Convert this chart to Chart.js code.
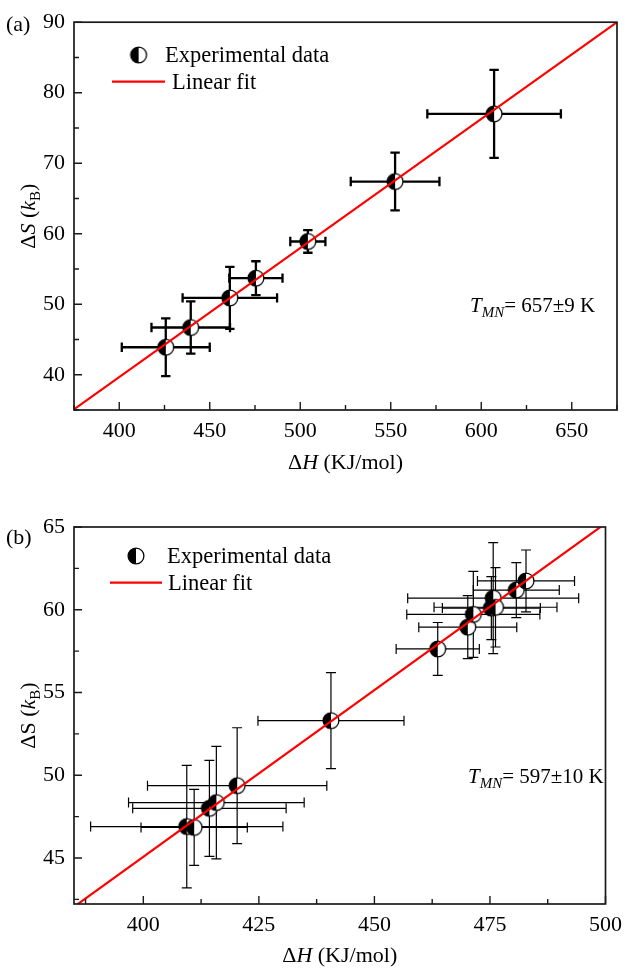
<!DOCTYPE html>
<html>
<head>
<meta charset="utf-8">
<script src="https://cdn.jsdelivr.net/npm/chart.js@4.4.1/dist/chart.umd.min.js"></script>
<style>
  html, body { margin: 0; padding: 0; background: #fff; }
  #wrap { position: relative; width: 630px; height: 974px; }
  canvas { position: absolute; left: 0; }
  #cA { top: 0; }
  #cB { top: 487px; }
</style>
</head>
<body>
<div id="wrap">
  <canvas id="cA" width="630" height="487"></canvas>
  <canvas id="cB" width="630" height="487"></canvas>
</div>
<script>
// panel (a)
const dHa    = [425.7, 439.5, 461.1, 475.5, 504.2, 552.4, 607.1];
const dSa    = [43.9, 46.7, 50.9, 53.7, 58.9, 67.4, 77.0];
const dHaErr = [24.3, 21.7, 26.1, 14.7, 9.7, 24.5, 36.9];
const dSaErr = [4.1, 3.7, 4.4, 2.4, 1.6, 4.1, 6.25];
const fitHa  = [375, 675];
const fitSa  = [35.1, 90];
const ticksHa = [400, 450, 500, 550, 600, 650];
const ticksSa = [40, 50, 60, 70, 80, 90];

// panel (b)
const dHb    = [409.4, 411.0, 414.3, 415.8, 420.3, 440.6, 463.7, 470.2, 471.4, 475.3, 475.7, 476.2, 480.7, 482.8];
const dSb    = [46.9, 46.85, 48.0, 48.35, 49.37, 53.3, 57.63, 58.95, 59.72, 60.1, 60.7, 60.15, 61.19, 61.74];
const dHbErr = [20.8, 11.5, 16.6, 19.0, 19.4, 15.8, 9.0, 10.6, 14.4, 10.6, 18.5, 13.3, 9.3, 10.5];
const dSbErr = [3.7, 2.3, 2.9, 3.4, 3.5, 2.9, 1.6, 1.9, 2.6, 1.9, 3.35, 2.4, 1.66, 1.87];
const fitHb  = [385, 500];
const fitSb  = [42.05, 65.22];
const ticksHb = [400, 425, 450, 475, 500];
const ticksSb = [45, 50, 55, 60, 65];

const FONT = '"Liberation Serif", "Times New Roman", serif';

// half filled circle used as point style
function halfDisc(r) {
  const c = document.createElement('canvas');
  const s = Math.ceil(2 * r + 4);
  c.width = s; c.height = s;
  const g = c.getContext('2d');
  const m = s / 2;
  g.fillStyle = '#fff';
  g.beginPath(); g.arc(m, m, r, 0, Math.PI * 2); g.fill();
  g.fillStyle = '#000';
  g.beginPath(); g.arc(m, m, r, Math.PI / 2, Math.PI * 1.5); g.closePath(); g.fill();
  g.strokeStyle = '#000'; g.lineWidth = 1.3;
  g.beginPath(); g.arc(m, m, r, 0, Math.PI * 2); g.stroke();
  return c;
}
const marker = halfDisc(7.9);

function fontOf(p) {
  const size = p.sub ? 15 : (p.sz || 22);
  return (p.it ? 'italic ' : '') + size + 'px ' + FONT;
}

function rich(ctx, parts, x, y, align) {
  let w = 0;
  parts.forEach(p => { ctx.font = fontOf(p); p.w = ctx.measureText(p.t).width; w += p.w; });
  let cx = align === 'center' ? x - w / 2 : x;
  parts.forEach(p => {
    ctx.font = fontOf(p);
    ctx.fillText(p.t, cx, y + (p.sub ? 5 : 0));
    cx += p.w;
  });
}

function minors(scale) {
  const v = scale.ticks.map(t => t.value);
  const step = v[1] - v[0];
  const out = [];
  for (let m = v[0] - step / 2; m <= scale.max; m += step) {
    if (m >= scale.min) out.push(m);
  }
  return out;
}

const errorBars = {
  id: 'errorBars',
  beforeDatasetsDraw(chart, args, opts) {
    const { ctx, scales: { x, y } } = chart;
    const c = opts.cap;
    ctx.save();
    ctx.strokeStyle = '#000';
    ctx.lineWidth = opts.width;
    chart.data.datasets[1].data.forEach(p => {
      const cx = x.getPixelForValue(p.x), cy = y.getPixelForValue(p.y);
      const x0 = x.getPixelForValue(p.x - p.ex), x1 = x.getPixelForValue(p.x + p.ex);
      const y0 = y.getPixelForValue(p.y - p.ey), y1 = y.getPixelForValue(p.y + p.ey);
      ctx.beginPath();
      ctx.moveTo(x0, cy); ctx.lineTo(x1, cy);
      ctx.moveTo(cx, y0); ctx.lineTo(cx, y1);
      ctx.moveTo(x0, cy - c); ctx.lineTo(x0, cy + c);
      ctx.moveTo(x1, cy - c); ctx.lineTo(x1, cy + c);
      ctx.moveTo(cx - c, y0); ctx.lineTo(cx + c, y0);
      ctx.moveTo(cx - c, y1); ctx.lineTo(cx + c, y1);
      ctx.stroke();
    });
    ctx.restore();
  }
};

// box around the plot plus inward ticks
const frame = {
  id: 'frame',
  afterDraw(chart) {
    const { ctx, chartArea: a, scales: { x, y } } = chart;
    ctx.save();
    ctx.strokeStyle = '#1a1a1a';
    ctx.lineWidth = 1.7;
    ctx.strokeRect(a.left, a.top, a.right - a.left, a.bottom - a.top);
    ctx.lineWidth = 1.4;
    ctx.beginPath();
    x.ticks.forEach(t => { const px = x.getPixelForValue(t.value); ctx.moveTo(px, a.bottom); ctx.lineTo(px, a.bottom - 8); });
    y.ticks.forEach(t => { const py = y.getPixelForValue(t.value); ctx.moveTo(a.left, py); ctx.lineTo(a.left + 8, py); });
    minors(x).forEach(v => { const px = x.getPixelForValue(v); ctx.moveTo(px, a.bottom); ctx.lineTo(px, a.bottom - 5); });
    minors(y).forEach(v => { const py = y.getPixelForValue(v); ctx.moveTo(a.left, py); ctx.lineTo(a.left + 5, py); });
    ctx.stroke();
    ctx.restore();
  }
};

const decor = {
  id: 'decor',
  afterDraw(chart, args, o) {
    const { ctx, chartArea: a } = chart;
    ctx.save();
    ctx.fillStyle = '#000';
    ctx.textBaseline = 'alphabetic';
    ctx.textAlign = 'left';
    rich(ctx, [{ t: o.tag }], 6, o.tagY, 'left');
    rich(ctx, [{ t: 'Δ' }, { t: 'H', it: 1 }, { t: ' (KJ/mol)' }], (a.left + a.right) / 2, a.bottom + o.xTitleDy, 'center');
    ctx.save();
    ctx.translate(28, (a.top + a.bottom) / 2);
    ctx.rotate(-Math.PI / 2);
    rich(ctx, o.yTitle, 0, 7, 'center');
    ctx.restore();
    // legend
    const L = o.leg;
    ctx.drawImage(marker, L.mx - marker.width / 2, L.my - marker.height / 2);
    rich(ctx, [{ t: 'Experimental data', sz: 22.5 }], L.tx, L.my + 7, 'left');
    ctx.strokeStyle = '#ff0000';
    ctx.lineWidth = 2.2;
    ctx.beginPath(); ctx.moveTo(L.lx0, L.ly); ctx.lineTo(L.lx1, L.ly); ctx.stroke();
    rich(ctx, [{ t: 'Linear fit', sz: 22.5 }], L.tx2, L.ly + 7, 'left');
    rich(ctx, [{ t: 'T', it: 1, sz: 21 }, { t: 'MN', it: 1, sub: 1 }, { t: '= ' + o.tmn, sz: 21 }], o.tx, o.ty, 'left');
    ctx.restore();
  }
};

function makeChart(id, cfg) {
  const pts = cfg.xs.map((v, i) => ({ x: v, y: cfg.ys[i], ex: cfg.xe[i], ey: cfg.ye[i] }));
  const fit = cfg.fx.map((v, i) => ({ x: v, y: cfg.fy[i] }));
  const tickFont = { family: FONT, size: 22 };
  return new Chart(document.getElementById(id), {
    type: 'scatter',
    data: {
      datasets: [
        { type: 'line', data: fit, borderColor: '#ff0000', borderWidth: 2.2, pointRadius: 0, showLine: true, fill: false, clip: 0 },
        { data: pts, pointStyle: marker, pointRadius: 8, pointHoverRadius: 8, borderWidth: 0, clip: false }
      ]
    },
    options: {
      responsive: false,
      animation: false,
      events: [],
      layout: { padding: cfg.pad },
      plugins: {
        legend: { display: false },
        tooltip: { enabled: false },
        errorBars: cfg.err,
        decor: cfg.decor
      },
      scales: {
        x: {
          type: 'linear', min: cfg.xmin, max: cfg.xmax,
          afterBuildTicks: s => { s.ticks = cfg.xt.map(v => ({ value: v })); },
          afterFit: s => { s.height = cfg.xh; },
          grid: { display: false, drawTicks: false },
          border: { display: false },
          ticks: { font: tickFont, color: '#000', padding: 8, maxRotation: 0, autoSkip: false }
        },
        y: {
          type: 'linear', min: cfg.ymin, max: cfg.ymax,
          afterBuildTicks: s => { s.ticks = cfg.yt.map(v => ({ value: v })); },
          afterFit: s => { s.width = 74; },
          grid: { display: false, drawTicks: false },
          border: { display: false },
          ticks: { font: tickFont, color: '#000', padding: 9, autoSkip: false }
        }
      }
    },
    plugins: [errorBars, frame, decor]
  });
}

makeChart('cA', {
  xs: dHa, ys: dSa, xe: dHaErr, ye: dSaErr, fx: fitHa, fy: fitSa,
  xt: ticksHa, yt: ticksSa, xmin: 375, xmax: 675, ymin: 35, ymax: 90,
  pad: { left: 0, top: 14, right: 13, bottom: 0 }, xh: 77,
  err: { width: 2.3, cap: 4.7 },
  decor: {
    tag: '(a)', tagY: 31, xTitleDy: 59,
    yTitle: [{ t: 'Δ' }, { t: 'S', it: 1 }, { t: ' (' }, { t: 'k', it: 1 }, { t: 'B', sub: 1 }, { t: ')' }],
    leg: { mx: 138.6, my: 55, tx: 165, lx0: 112, lx1: 165, ly: 81.7, tx2: 172 },
    tmn: '657±9 K', tx: 470, ty: 312
  }
});

makeChart('cB', {
  xs: dHb, ys: dSb, xe: dHbErr, ye: dSbErr, fx: fitHb, fy: fitSb,
  xt: ticksHb, yt: ticksSb, xmin: 385, xmax: 500, ymin: 42.22, ymax: 65,
  pad: { left: 0, top: 40, right: 18, bottom: 0 }, xh: 70,
  err: { width: 1.2, cap: 5 },
  decor: {
    tag: '(b)', tagY: 57, xTitleDy: 58,
    yTitle: [{ t: 'ΔS (' }, { t: 'k', it: 1 }, { t: 'B', sub: 1 }, { t: ')' }],
    leg: { mx: 136, my: 69, tx: 167, lx0: 110, lx1: 162, ly: 95.7, tx2: 168 },
    tmn: '597±10 K', tx: 468, ty: 296
  }
});
</script>
</body>
</html>
